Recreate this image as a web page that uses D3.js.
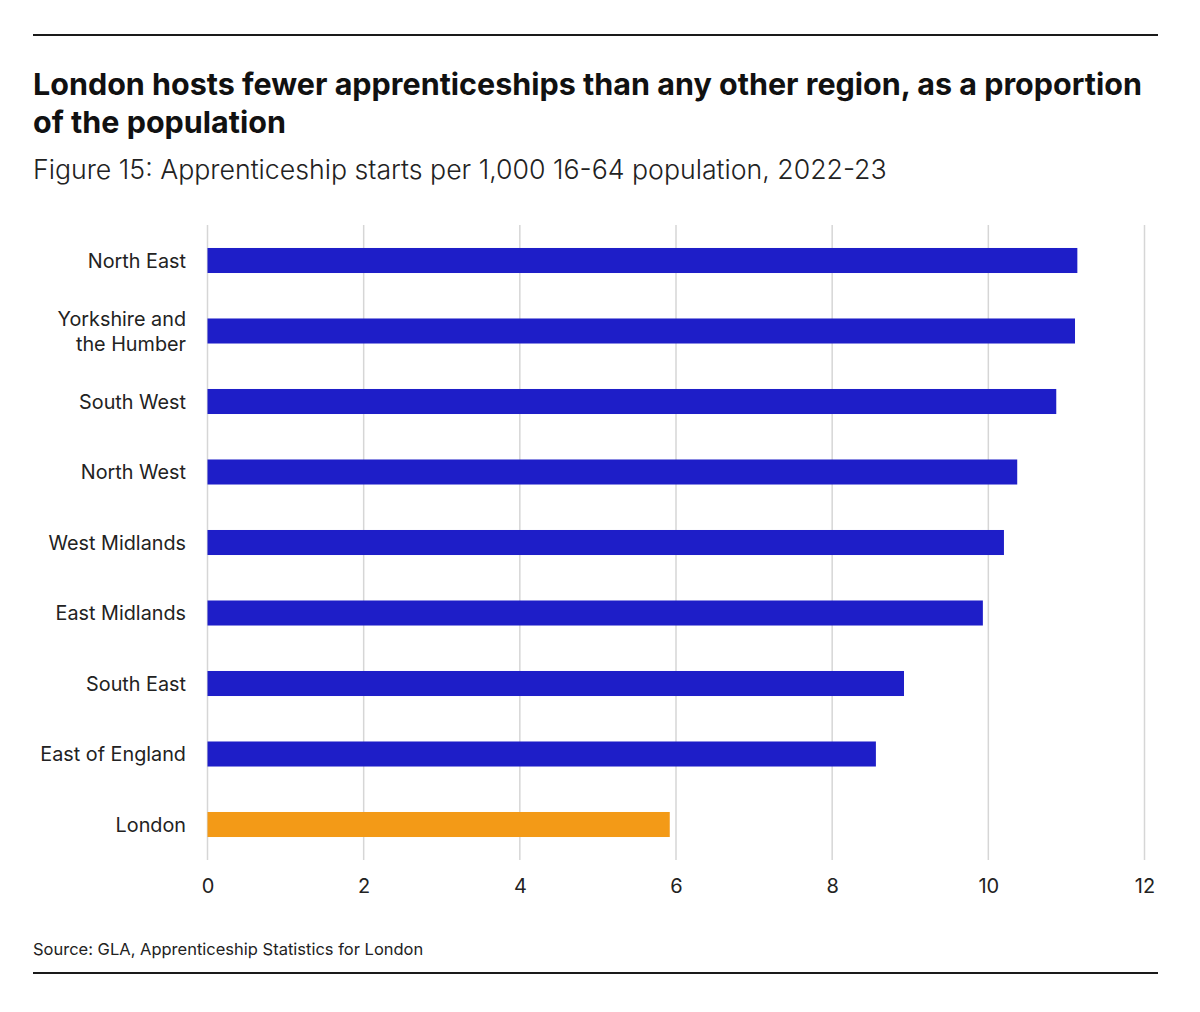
<!DOCTYPE html>
<html>
<head>
<meta charset="utf-8">
<script src="https://cdn.jsdelivr.net/npm/d3@7"></script>
<style>
  html, body { margin: 0; padding: 0; background: #fff; }
  svg { display: block; }
</style>
</head>
<body>
<svg id="chart" width="1200" height="1012"></svg>
<script>
const regions = ["North East", "Yorkshire and the Humber", "South West", "North West", "West Midlands", "East Midlands", "South East", "East of England", "London"];
const values = [11.14, 11.11, 10.87, 10.37, 10.20, 9.93, 8.92, 8.56, 5.92];
const xTicks = [0, 2, 4, 6, 8, 10, 12];
const highlight = "London";

const titleLines = ["London hosts fewer apprenticeships than any other region, as a proportion", "of the population"];
const subtitle = "Figure 15: Apprenticeship starts per 1,000 16-64 population, 2022-23";
const source = "Source: GLA, Apprenticeship Statistics for London";

const FONT = "Inter, 'Noto Sans', sans-serif";
const svg = d3.select("#chart");

// rules
svg.append("line").attr("x1", 33).attr("x2", 1158).attr("y1", 35).attr("y2", 35)
  .attr("stroke", "#1a1a1a").attr("stroke-width", 2);
svg.append("line").attr("x1", 33).attr("x2", 1158).attr("y1", 973).attr("y2", 973)
  .attr("stroke", "#1a1a1a").attr("stroke-width", 2);

// title
svg.append("text").attr("x", 33).attr("y", 95)
  .attr("font-family", FONT).attr("font-weight", 700).attr("font-size", 30.5).attr("fill", "#111")
  .selectAll("tspan").data(titleLines).join("tspan")
  .attr("x", 33).attr("dy", (d, i) => i === 0 ? 0 : 38).text(d => d);

svg.append("text").attr("x", 33).attr("y", 179)
  .attr("font-family", FONT).attr("font-weight", 300).attr("font-size", 26.7).attr("fill", "#222")
  .text(subtitle);

svg.append("text").attr("x", 33).attr("y", 955)
  .attr("font-family", FONT).attr("font-weight", 400).attr("font-size", 16.5).attr("fill", "#222")
  .text(source);

// scales
const x = d3.scaleLinear().domain([0, 12]).range([207.5, 1144.5]);
const y = d3.scaleBand().domain(regions).range([225, 860]).paddingInner(0.645).paddingOuter(0.326);

// grid
const grid = svg.append("g");
grid.selectAll("line").data(xTicks).join("line")
  .attr("x1", d => x(d)).attr("x2", d => x(d))
  .attr("y1", 225).attr("y2", 860)
  .attr("stroke", "#d6d6d6").attr("stroke-width", 1.5);

// x axis
const xAxis = svg.append("g").attr("transform", "translate(0,860)")
  .call(d3.axisBottom(x).tickValues(xTicks).tickSize(0).tickPadding(19).tickFormat(d3.format("d")));
xAxis.select(".domain").remove();
xAxis.selectAll("text").attr("font-family", FONT).attr("font-size", 20).attr("fill", "#222");

// bars
svg.append("g").selectAll("rect").data(regions).join("rect")
  .attr("x", x(0)).attr("y", d => y(d))
  .attr("width", (d, i) => x(values[i]) - x(0))
  .attr("height", y.bandwidth())
  .attr("fill", d => d === highlight ? "#f39a17" : "#1e1ec8");

// y labels
const yAxis = svg.append("g").attr("transform", "translate(186,1)")
  .call(d3.axisLeft(y).tickSize(0).tickPadding(0));
yAxis.select(".domain").remove();
yAxis.selectAll(".tick text").each(function(d) {
  const t = d3.select(this);
  t.text(null).attr("font-family", FONT).attr("font-size", 19.8).attr("fill", "#222").attr("text-anchor", "end");
  let lines = [d];
  if (d === "Yorkshire and the Humber") lines = ["Yorkshire and", "the Humber"];
  const lh = 25;
  lines.forEach((l, i) => {
    t.append("tspan").attr("x", 0)
      .attr("dy", i === 0 ? (0.32 - (lines.length - 1) * lh / 2 / 19.8) + "em" : lh + "px")
      .text(l);
  });
});
</script>
</body>
</html>
